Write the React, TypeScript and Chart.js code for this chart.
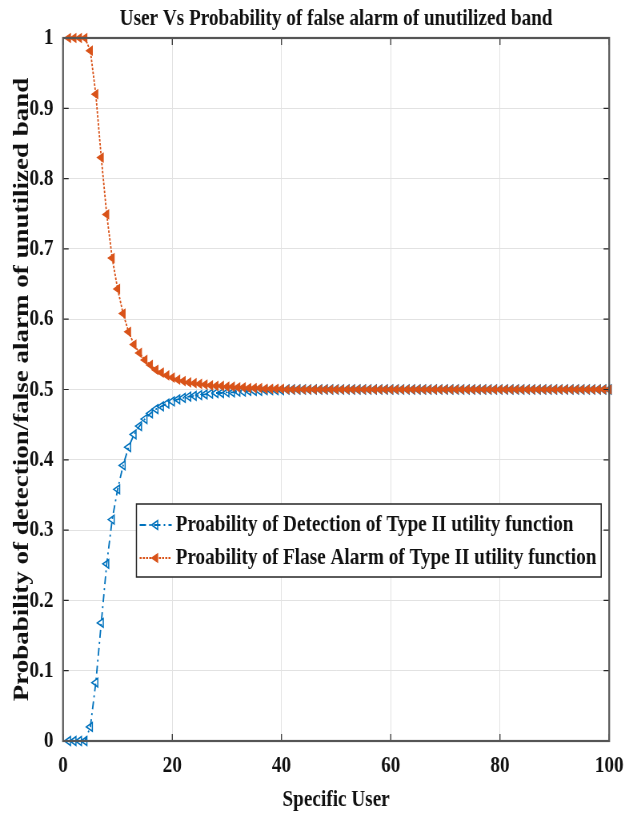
import React, { useEffect, useRef } from "react";
import { Chart, registerables } from "chart.js";

Chart.register(...registerables);

// ---------------- data ----------------
const users = [
  1, 2, 3, 4, 5, 6, 7, 8, 9, 10,
  11, 12, 13, 14, 15, 16, 17, 18, 19, 20,
  21, 22, 23, 24, 25, 26, 27, 28, 29, 30,
  31, 32, 33, 34, 35, 36, 37, 38, 39, 40,
  41, 42, 43, 44, 45, 46, 47, 48, 49, 50,
  51, 52, 53, 54, 55, 56, 57, 58, 59, 60,
  61, 62, 63, 64, 65, 66, 67, 68, 69, 70,
  71, 72, 73, 74, 75, 76, 77, 78, 79, 80,
  81, 82, 83, 84, 85, 86, 87, 88, 89, 90,
  91, 92, 93, 94, 95, 96, 97, 98, 99, 100,
];

const detection = [
  0, 0, 0, 0, 0.02, 0.083, 0.168, 0.252, 0.315, 0.358,
  0.392, 0.418, 0.436, 0.448, 0.458, 0.466, 0.472, 0.476, 0.48, 0.483,
  0.486, 0.488, 0.49, 0.491, 0.492, 0.493, 0.494, 0.495, 0.495, 0.496,
  0.496, 0.497, 0.497, 0.498, 0.498, 0.498, 0.499, 0.499, 0.499, 0.499,
  0.5, 0.5, 0.5, 0.5, 0.5, 0.5, 0.5, 0.5, 0.5, 0.5,
  0.5, 0.5, 0.5, 0.5, 0.5, 0.5, 0.5, 0.5, 0.5, 0.5,
  0.5, 0.5, 0.5, 0.5, 0.5, 0.5, 0.5, 0.5, 0.5, 0.5,
  0.5, 0.5, 0.5, 0.5, 0.5, 0.5, 0.5, 0.5, 0.5, 0.5,
  0.5, 0.5, 0.5, 0.5, 0.5, 0.5, 0.5, 0.5, 0.5, 0.5,
  0.5, 0.5, 0.5, 0.5, 0.5, 0.5, 0.5, 0.5, 0.5, 0.5,
];

const falseAlarm = [
  1, 1, 1, 1, 0.982, 0.92, 0.83, 0.749, 0.687, 0.643,
  0.608, 0.582, 0.564, 0.552, 0.542, 0.535, 0.528, 0.524, 0.52, 0.517,
  0.514, 0.512, 0.51, 0.509, 0.508, 0.507, 0.506, 0.505, 0.505, 0.504,
  0.504, 0.503, 0.503, 0.502, 0.502, 0.502, 0.501, 0.501, 0.501, 0.501,
  0.5, 0.5, 0.5, 0.5, 0.5, 0.5, 0.5, 0.5, 0.5, 0.5,
  0.5, 0.5, 0.5, 0.5, 0.5, 0.5, 0.5, 0.5, 0.5, 0.5,
  0.5, 0.5, 0.5, 0.5, 0.5, 0.5, 0.5, 0.5, 0.5, 0.5,
  0.5, 0.5, 0.5, 0.5, 0.5, 0.5, 0.5, 0.5, 0.5, 0.5,
  0.5, 0.5, 0.5, 0.5, 0.5, 0.5, 0.5, 0.5, 0.5, 0.5,
  0.5, 0.5, 0.5, 0.5, 0.5, 0.5, 0.5, 0.5, 0.5, 0.5,
];

const xTicks = [0, 20, 40, 60, 80, 100];
const yTicks = [0, 0.1, 0.2, 0.3, 0.4, 0.5, 0.6, 0.7, 0.8, 0.9, 1];
const yTickLabels = ["0", "0.1", "0.2", "0.3", "0.4", "0.5", "0.6", "0.7", "0.8", "0.9", "1"];

const titleText = "User Vs Probability of false alarm of unutilized band";
const xTitle = "Specific User";
const yTitle = "Probability of detection/false alarm of unutilized band";
const detectionLabel = "Proability of Detection of Type II utility function";
const falseAlarmLabel = "Proability of Flase Alarm of Type II utility function";

// ---------------- styling ----------------
const BLUE = "#0072BD";
const ORANGE = "#D95319";
const FONT = "'Liberation Serif', 'Times New Roman', serif";
const SQUISH = 0.8; // horizontal compression of the reference image
const W = 625;
const H = 816;
const IW = Math.round(W / SQUISH);

function drawTriangle(ctx: CanvasRenderingContext2D, cx: number, cy: number, r: number, rotDeg: number) {
  let rad = (rotDeg * Math.PI) / 180;
  ctx.beginPath();
  for (let i = 0; i < 3; i++) {
    const px = cx + Math.sin(rad) * r;
    const py = cy - Math.cos(rad) * r;
    if (i === 0) ctx.moveTo(px, py);
    else ctx.lineTo(px, py);
    rad += (2 * Math.PI) / 3;
  }
  ctx.closePath();
}

const frameTicksPlugin = {
  id: "frameTicks",
  afterDatasetsDraw(chart: any) {
    const { ctx, chartArea: a, scales } = chart;
    const x = scales.x;
    const y = scales.y;
    ctx.save();
    ctx.strokeStyle = "#262626";
    ctx.lineWidth = 1.2;
    ctx.beginPath();
    for (const v of xTicks) {
      const px = x.getPixelForValue(v);
      ctx.moveTo(px, a.bottom);
      ctx.lineTo(px, a.bottom - 7);
      ctx.moveTo(px, a.top);
      ctx.lineTo(px, a.top + 7);
    }
    for (const v of yTicks) {
      const py = y.getPixelForValue(v);
      ctx.moveTo(a.left, py);
      ctx.lineTo(a.left + 7, py);
      ctx.moveTo(a.right, py);
      ctx.lineTo(a.right - 7, py);
    }
    ctx.stroke();
    ctx.strokeStyle = "#555555";
    ctx.lineWidth = 2.2;
    ctx.strokeRect(a.left, a.top, a.right - a.left, a.bottom - a.top);
    ctx.restore();
  },
};

const boxLegendPlugin = {
  id: "boxLegend",
  afterDraw(chart: any) {
    const { ctx, chartArea: a } = chart;
    const datasets = chart.data.datasets;
    const items = [datasets[0], datasets[1]];
    ctx.save();
    ctx.font = `bold 24px ${FONT}`;
    const tw = Math.max(...items.map((d: any) => ctx.measureText(d.label).width));
    const sampleW = 40;
    const width = 4 + sampleW + 5 + tw + 6;
    const right = a.right - 10;
    const left = right - width;
    const top = a.top + 466;
    const height = 73;
    ctx.fillStyle = "#ffffff";
    ctx.fillRect(left, top, width, height);
    ctx.strokeStyle = "#262626";
    ctx.lineWidth = 1.5;
    ctx.strokeRect(left, top, width, height);
    const rows = [top + 21, top + 54];
    items.forEach((d: any, i: number) => {
      const cy = rows[i];
      const x0 = left + 4;
      ctx.save();
      ctx.strokeStyle = d.borderColor;
      ctx.lineWidth = d.borderWidth;
      ctx.setLineDash(d.borderDash || []);
      ctx.beginPath();
      ctx.moveTo(x0, cy);
      ctx.lineTo(x0 + sampleW, cy);
      ctx.stroke();
      ctx.setLineDash([]);
      drawTriangle(ctx, x0 + sampleW / 2, cy, d.pointRadius, d.rotation);
      ctx.fillStyle = d.pointBackgroundColor;
      ctx.fill();
      ctx.lineWidth = d.pointBorderWidth;
      ctx.strokeStyle = d.pointBorderColor;
      ctx.stroke();
      ctx.restore();
      ctx.fillStyle = "#111111";
      ctx.textAlign = "left";
      ctx.textBaseline = "middle";
      ctx.fillText(d.label, x0 + sampleW + 5, cy);
    });
    ctx.restore();
  },
};

export default function App() {
  const canvasRef = useRef<HTMLCanvasElement | null>(null);

  useEffect(() => {
    const canvas = canvasRef.current;
    if (!canvas) return;
    const tickFont = { family: FONT, size: 24, weight: "bold" as const };
    const chart = new Chart(canvas, {
      type: "line",
      data: {
        datasets: [
          {
            label: detectionLabel,
            data: users.map((u, i) => ({ x: u, y: detection[i] })),
            borderColor: BLUE,
            backgroundColor: BLUE,
            borderWidth: 1.8,
            borderDash: [8, 4, 2, 4],
            pointStyle: "triangle",
            rotation: -90,
            pointRadius: 5,
            pointBorderWidth: 1.5,
            pointBackgroundColor: "rgba(255,255,255,0)",
            pointBorderColor: BLUE,
            clip: false,
            order: 1,
          } as any,
          {
            label: falseAlarmLabel,
            data: users.map((u, i) => ({ x: u, y: falseAlarm[i] })),
            borderColor: ORANGE,
            backgroundColor: ORANGE,
            borderWidth: 1.8,
            borderDash: [2.5, 1.5],
            pointStyle: "triangle",
            rotation: -90,
            pointRadius: 5,
            pointBorderWidth: 1.2,
            pointBackgroundColor: ORANGE,
            pointBorderColor: ORANGE,
            clip: false,
            order: 0,
          } as any,
        ],
      },
      options: {
        responsive: false,
        maintainAspectRatio: false,
        animation: false,
        devicePixelRatio: 1,
        events: [],
        layout: { padding: { left: 0, right: IW - 761.25, top: 0, bottom: 0 } },
        plugins: {
          legend: { display: false },
          tooltip: { enabled: false },
          title: {
            display: true,
            text: titleText,
            fullSize: false,
            color: "#111111",
            font: { family: FONT, size: 24, weight: "bold" },
            padding: { top: 4, bottom: 5.2 },
          },
        },
        scales: {
          x: {
            type: "linear",
            min: 0,
            max: 100,
            afterBuildTicks: (s: any) => {
              s.ticks = xTicks.map((v) => ({ value: v }));
            },
            afterFit: (s: any) => {
              s.height = 75;
              s.paddingLeft = 0;
              s.paddingRight = 0;
            },
            ticks: {
              font: tickFont,
              color: "#111111",
              padding: 10,
              maxRotation: 0,
              autoSkip: false,
              callback: (v: any) => String(v),
            },
            grid: { color: "#e2e2e2", lineWidth: 1, drawTicks: false },
            border: { display: false },
            title: {
              display: true,
              text: xTitle,
              color: "#111111",
              font: { family: FONT, size: 24, weight: "bold" },
              padding: { top: 0, bottom: 2 },
            },
          },
          y: {
            type: "linear",
            min: 0,
            max: 1,
            afterBuildTicks: (s: any) => {
              s.ticks = yTicks.map((v) => ({ value: v }));
            },
            afterFit: (s: any) => {
              s.width = 78.75;
              s.paddingTop = 0;
              s.paddingBottom = 0;
            },
            ticks: {
              font: tickFont,
              color: "#111111",
              padding: 12,
              autoSkip: false,
              callback: (v: any, i: number) => yTickLabels[i],
            },
            grid: { color: "#e2e2e2", lineWidth: 1, drawTicks: false },
            border: { display: false },
            title: {
              display: true,
              text: yTitle,
              color: "#111111",
              font: { family: FONT, size: 27, weight: "bold" },
              padding: { top: 12, bottom: 0 },
            },
          },
        },
      } as any,
      plugins: [frameTicksPlugin, boxLegendPlugin],
    });
    return () => chart.destroy();
  }, []);

  return (
    <div style={{ position: "fixed", left: 0, top: 0, width: W, height: H, background: "#ffffff" }}>
      <canvas
        ref={canvasRef}
        width={IW}
        height={H}
        style={{ width: `${W}px`, height: `${H}px`, display: "block" }}
      />
    </div>
  );
}
